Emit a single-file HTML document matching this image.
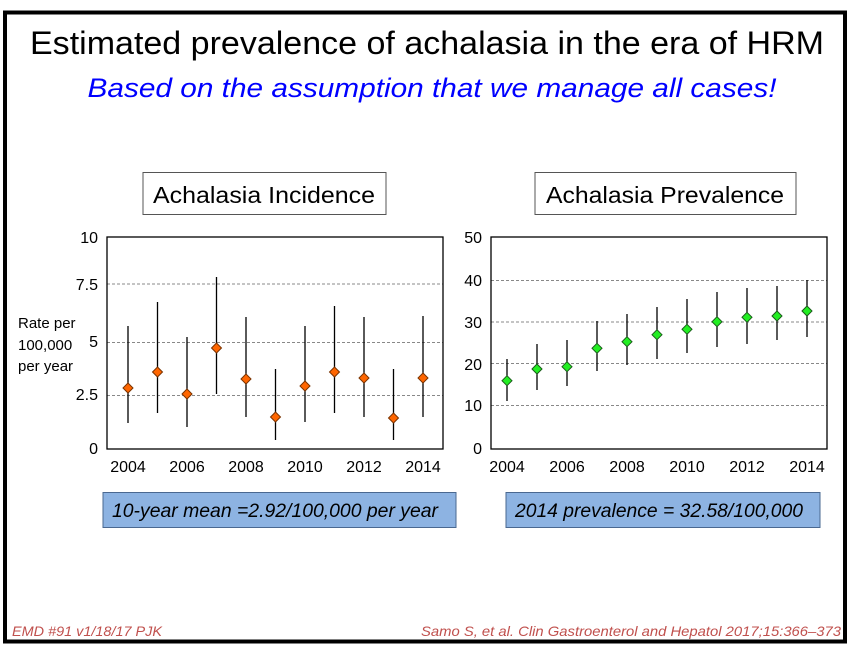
<!DOCTYPE html>
<html><head><meta charset="utf-8"><style>html,body{margin:0;padding:0;background:#fff}svg{display:block}</style></head>
<body>
<svg width="857" height="651" viewBox="0 0 857 651" xmlns="http://www.w3.org/2000/svg" font-family="Liberation Sans, sans-serif">
<rect x="0" y="0" width="857" height="651" fill="#fff"/>
<rect x="5" y="12.5" width="840" height="629" fill="none" stroke="#000" stroke-width="4"/>
<text x="427" y="54" font-size="32" text-anchor="middle" textLength="794" lengthAdjust="spacingAndGlyphs">Estimated prevalence of achalasia in the era of HRM</text>
<text x="432" y="97" font-size="27" font-style="italic" fill="#0000ff" text-anchor="middle" textLength="689" lengthAdjust="spacingAndGlyphs">Based on the assumption that we manage all cases!</text>
<rect x="143" y="172.5" width="243" height="42" fill="#fff" stroke="#555"/>
<text x="264" y="203" font-size="23" text-anchor="middle" textLength="222" lengthAdjust="spacingAndGlyphs">Achalasia Incidence</text>
<rect x="535" y="172.5" width="261" height="42" fill="#fff" stroke="#555"/>
<text x="665" y="203" font-size="23" text-anchor="middle" textLength="238" lengthAdjust="spacingAndGlyphs">Achalasia Prevalence</text>
<!-- left chart -->
<g stroke="#888" stroke-dasharray="3,2" stroke-width="1">
<line x1="107" y1="284" x2="443" y2="284"/><line x1="107" y1="342.5" x2="443" y2="342.5"/><line x1="107" y1="395.5" x2="443" y2="395.5"/>
</g>
<rect x="107" y="237" width="336" height="212" fill="none" stroke="#000" stroke-width="1.3"/>
<g font-size="16" text-anchor="end">
<text x="98" y="243">10</text><text x="98" y="290">7.5</text><text x="98" y="347">5</text><text x="98" y="400">2.5</text><text x="98" y="454">0</text>
</g>
<g font-size="15">
<text x="18" y="328">Rate per</text><text x="18" y="350">100,000</text><text x="18" y="371">per year</text>
</g>
<g font-size="16" text-anchor="middle">
<text x="128" y="472">2004</text><text x="187" y="472">2006</text><text x="246" y="472">2008</text><text x="305" y="472">2010</text><text x="364" y="472">2012</text><text x="423" y="472">2014</text>
</g>
<g stroke="#000" stroke-width="1.3">
<line x1="128" y1="326" x2="128" y2="423"/><line x1="157.5" y1="302" x2="157.5" y2="413"/><line x1="187" y1="337" x2="187" y2="427"/><line x1="216.5" y1="277" x2="216.5" y2="394"/><line x1="246" y1="317" x2="246" y2="417"/><line x1="275.5" y1="369" x2="275.5" y2="440"/><line x1="305" y1="326" x2="305" y2="422"/><line x1="334.5" y1="306" x2="334.5" y2="413"/><line x1="364" y1="317" x2="364" y2="417"/><line x1="393.5" y1="369" x2="393.5" y2="440"/><line x1="423" y1="316" x2="423" y2="417"/>
</g>
<g fill="#ff6600" stroke="#7a3300" stroke-width="1">
<path d="M128 383l5 5-5 5-5-5z"/><path d="M157.5 367l5 5-5 5-5-5z"/><path d="M187 389l5 5-5 5-5-5z"/><path d="M216.5 343l5 5-5 5-5-5z"/><path d="M246 374l5 5-5 5-5-5z"/><path d="M275.5 412l5 5-5 5-5-5z"/><path d="M305 381l5 5-5 5-5-5z"/><path d="M334.5 367l5 5-5 5-5-5z"/><path d="M364 373l5 5-5 5-5-5z"/><path d="M393.5 413l5 5-5 5-5-5z"/><path d="M423 373l5 5-5 5-5-5z"/>
</g>
<!-- right chart -->
<g stroke="#888" stroke-dasharray="3,2" stroke-width="1">
<line x1="491" y1="280.5" x2="827" y2="280.5"/><line x1="491" y1="322" x2="827" y2="322"/><line x1="491" y1="363.5" x2="827" y2="363.5"/><line x1="491" y1="405.5" x2="827" y2="405.5"/>
</g>
<rect x="491" y="237" width="336" height="212" fill="none" stroke="#000" stroke-width="1.3"/>
<g font-size="16" text-anchor="end">
<text x="482" y="243">50</text><text x="482" y="286">40</text><text x="482" y="328">30</text><text x="482" y="370">20</text><text x="482" y="411">10</text><text x="482" y="454">0</text>
</g>
<g font-size="16" text-anchor="middle">
<text x="507" y="472">2004</text><text x="567" y="472">2006</text><text x="627" y="472">2008</text><text x="687" y="472">2010</text><text x="747" y="472">2012</text><text x="807" y="472">2014</text>
</g>
<g stroke="#000" stroke-width="1.3">
<line x1="507" y1="359" x2="507" y2="401"/><line x1="537" y1="344" x2="537" y2="390"/><line x1="567" y1="340" x2="567" y2="386"/><line x1="597" y1="321" x2="597" y2="371"/><line x1="627" y1="314" x2="627" y2="365"/><line x1="657" y1="307" x2="657" y2="359"/><line x1="687" y1="299" x2="687" y2="353"/><line x1="717" y1="292" x2="717" y2="347"/><line x1="747" y1="288" x2="747" y2="344"/><line x1="777" y1="286" x2="777" y2="340"/><line x1="807" y1="280" x2="807" y2="337"/>
</g>
<g fill="#22ee22" stroke="#1a5a1a" stroke-width="1">
<path d="M507 375.7l5 5-5 5-5-5z"/><path d="M537 364l5 5-5 5-5-5z"/><path d="M567 361.7l5 5-5 5-5-5z"/><path d="M597 343.3l5 5-5 5-5-5z"/><path d="M627 336.7l5 5-5 5-5-5z"/><path d="M657 329.7l5 5-5 5-5-5z"/><path d="M687 324.3l5 5-5 5-5-5z"/><path d="M717 316.7l5 5-5 5-5-5z"/><path d="M747 312.3l5 5-5 5-5-5z"/><path d="M777 311l5 5-5 5-5-5z"/><path d="M807 306l5 5-5 5-5-5z"/>
</g>
<!-- summary boxes -->
<rect x="103" y="492.5" width="353" height="35" fill="#8db3e2" stroke="#4a6890"/>
<text x="112" y="517" font-size="19" font-style="italic" textLength="326" lengthAdjust="spacingAndGlyphs">10-year mean =2.92/100,000 per year</text>
<rect x="506" y="492.5" width="314" height="35" fill="#8db3e2" stroke="#4a6890"/>
<text x="515" y="517" font-size="19" font-style="italic" textLength="288" lengthAdjust="spacingAndGlyphs">2014 prevalence = 32.58/100,000</text>
<!-- footer -->
<text x="12" y="636" font-size="14" font-style="italic" fill="#c0504d" textLength="150" lengthAdjust="spacingAndGlyphs">EMD #91 v1/18/17 PJK</text>
<text x="841" y="636" font-size="14" font-style="italic" fill="#c0504d" text-anchor="end" textLength="420" lengthAdjust="spacingAndGlyphs">Samo S, et al. Clin Gastroenterol and Hepatol 2017;15:366–373</text>
</svg>
</body></html>
